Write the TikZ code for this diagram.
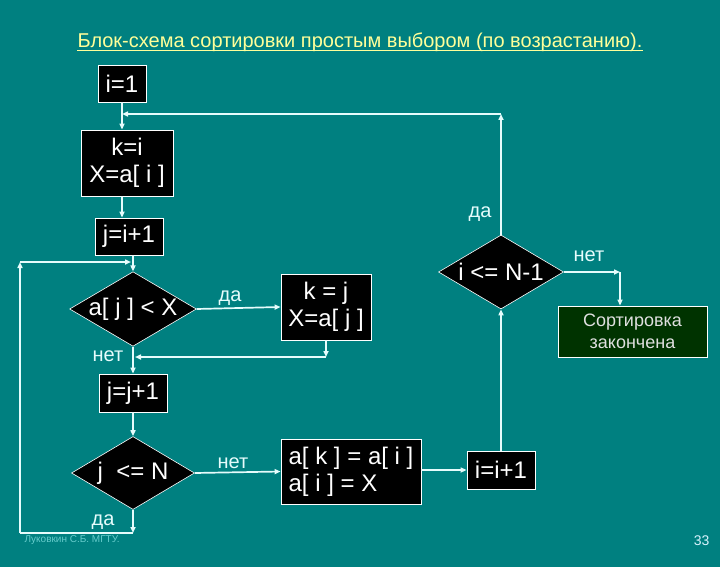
\documentclass[tikz,border=0pt]{standalone}
\usepackage{fontspec}
\setmainfont{Liberation Sans}
\usepackage{xcolor}
\usepackage{tikz}
\usetikzlibrary{arrows.meta,positioning,shapes.geometric,calc}
\definecolor{slidebg}{RGB}{0,128,128}
\definecolor{titlecol}{RGB}{255,255,153}
\definecolor{linecol}{RGB}{230,252,252}
\definecolor{donefill}{RGB}{0,51,0}
\definecolor{credcol}{RGB}{102,204,204}

\begin{document}
\begin{tikzpicture}[x=1pt,y=-1pt,font=\fontsize{24}{27}\selectfont,
  opbox/.style={draw=white,fill=black,text=white,align=center,inner sep=0pt,line width=0.8pt},
  cond/.style={diamond,draw=white,fill=black,text=white,inner sep=0pt,aspect=1.7,line width=0.6pt},
  flow/.style={draw=linecol,line width=1.7pt,-{Triangle[length=6pt,width=5pt]}},
  plain/.style={draw=linecol,line width=1.7pt},
  lbl/.style={text=linecol,anchor=base,font=\fontsize{20}{22}\selectfont}]
\fill[slidebg] (0,0) rectangle (720,567);
\node[text=titlecol,anchor=base,inner sep=0pt,font=\fontsize{20}{22}\selectfont] (title) at (360,48) {Блок-схема сортировки простым выбором (по возрастанию).};
\draw[titlecol,line width=0.9pt] ([yshift=-2pt]title.base west) -- ([yshift=-2pt]title.base east);
\node[opbox,minimum width=48pt,minimum height=37pt] (i1) at (122,83.5) {i=1};
\node[opbox,minimum width=92pt,minimum height=66pt] (ki) at (127,163) {k=i\\X=a[ i ]};
\node[opbox,minimum width=68pt,minimum height=37pt] (ji) at (129,236.5) {j=i+1};
\node[cond,minimum width=122pt,minimum height=72pt] (d1) at (133,309) {a[ j ] < X};
\node[opbox,minimum width=90pt,minimum height=66pt] (kj) at (326,307) {k = j\\X=a[ j ]};
\node[opbox,minimum width=68pt,minimum height=38pt] (jj) at (133,393) {j=j+1};
\node[cond,minimum width=123pt,minimum height=73pt] (d2) at (133,473) {j~~<= N};
\node[opbox,align=left,minimum width=140pt,minimum height=65pt] (ak) at (351,471.5) {a[ k ] = a[ i ]\\a[ i ] = X};
\node[opbox,minimum width=68pt,minimum height=38pt] (ii) at (501,470) {i=i+1};
\node[cond,minimum width=125pt,minimum height=74pt] (d3) at (501,272) {i <= N-1};
\node[opbox,fill=donefill,text=white!88!black,minimum width=149pt,minimum height=51pt,
  font=\fontsize{18}{22}\selectfont] (done) at (632.5,331.5) {Сортировка\\закончена};
\coordinate (rt) at (501,114);
\coordinate (lb) at (20,533);
\coordinate (lt) at (20,262);
\coordinate (kb) at (326,357);
\coordinate (nr) at (620,272);
\draw[flow] (i1.south) -- (i1.south |- ki.north);
\draw[flow] (d3.north) -- (rt);
\draw[flow] (rt) -- (rt -| i1.south);
\draw[flow] (ki.south -| i1.south) -- (i1.south |- ji.north);
\draw[flow] (d1.north |- ji.south) -- (d1.north);
\draw[flow] (d1.east) -- (kj.west);
\draw[flow] (kj.south) -- (kb);
\draw[flow,shorten >=2pt] (kb) -- (kb -| d1.south);
\draw[flow] (d1.south) -- (jj.north);
\draw[flow] (jj.south) -- (d2.north);
\draw[flow] (d2.east) -- (ak.west);
\draw[flow] (d2.south) -- (d2.south |- lb);
\draw[plain] (d2.south |- lb) -- (lb);
\draw[flow] (lb) -- (lt);
\draw[flow,shorten >=2pt] (lt) -- (lt -| d1.north);
\draw[flow] (ak.east |- ii.west) -- (ii.west);
\draw[flow] (ii.north) -- (d3.south);
\draw[flow] (d3.east) -- (nr);
\draw[flow] (nr) -- (nr |- done.north);
\node[lbl] (l1) at (480,217) {да};
\node[lbl] (l2) at (230,301.5) {да};
\node[lbl] (l3) at (108,361.5) {нет};
\node[lbl] (l4) at (233,468) {нет};
\node[lbl] (l5) at (103,525) {да};
\node[lbl] (l6) at (589,261.5) {нет};
\node[text=credcol,anchor=base west,font=\fontsize{10}{12}\selectfont] (cred) at (21,542) {Луковкин С.Б. МГТУ.};
\node[text=white!85!cyan,anchor=base east,font=\fontsize{14}{16}\selectfont] (page) at (713,545) {33};
\end{tikzpicture}
\end{document}
